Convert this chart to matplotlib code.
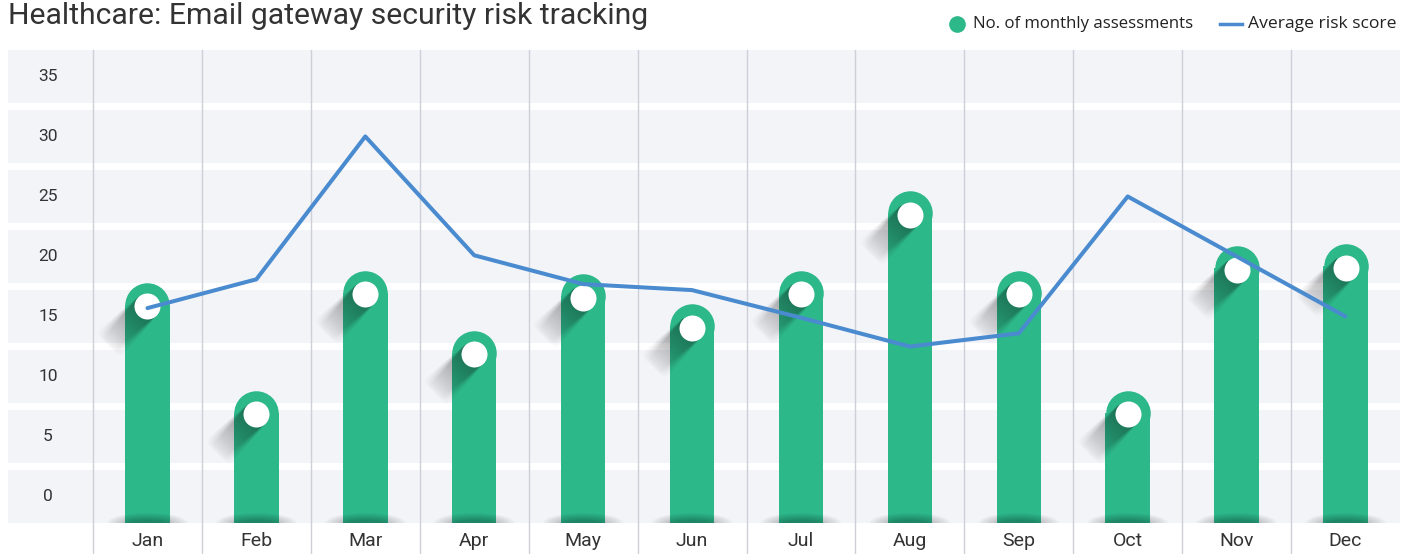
import numpy as np
import matplotlib
matplotlib.use("Agg")
import matplotlib.pyplot as plt
from matplotlib.patches import Ellipse
from matplotlib.transforms import blended_transform_factory, offset_copy, IdentityTransform
from matplotlib.lines import Line2D

# ---------------- data ----------------
months = ["Jan", "Feb", "Mar", "Apr", "May", "Jun", "Jul", "Aug", "Sep", "Oct", "Nov", "Dec"]
assessments = [16, 7, 17, 12, 16.7, 14.2, 17, 23.6, 17, 7, 19, 19.2]
risk_score = [15.7, 18.1, 30, 20.1, 17.7, 17.2, 14.9, 12.5, 13.6, 25, 20, 15]
y_ticks = [0, 5, 10, 15, 20, 25, 30, 35]

title = "Healthcare: Email gateway security risk tracking"
legend_bar = "No. of monthly assessments"
legend_line = "Average risk score"

# ---------------- style ----------------
GREEN = "#2DB88A"
BLUE = "#4A8BD0"
BAND = "#F3F4F8"
VGRID = "#CDD0D6"
TXT = "#333333"
TITLE_FONT = "Roboto"
LEG_FONT = "Open Sans"

W, H = 1402, 554
fig = plt.figure(figsize=(W / 100, H / 100), dpi=100)
fig.patch.set_facecolor("white")

ax_left, ax_right, ax_top, ax_bottom = 8, 1400, 50, 523
ax = fig.add_axes([ax_left / W, (H - ax_bottom) / H, (ax_right - ax_left) / W, (ax_bottom - ax_top) / H])
ax.set_facecolor("white")
for s in ax.spines.values():
    s.set_visible(False)
ax.set_xticks([])
ax.set_yticks([])

cat_w = (ax_right - 93) / len(months)
x = np.arange(len(months))
xlim = (-0.5 - (93 - ax_left) / cat_w, len(months) - 0.5)
ylim = (-2.2, 37.2)
ax.set_xlim(*xlim)
ax.set_ylim(*ylim)

# horizontal bands
for v in y_ticks:
    ax.axhspan(v - 2.21, v + 2.21, color=BAND, lw=0, zorder=0)

# vertical separators extending into the label area
bt = blended_transform_factory(ax.transData, ax.transAxes)
for i in range(len(months)):
    ax.plot([i - 0.5, i - 0.5], [1, -(H - ax_bottom) / (ax_bottom - ax_top)],
            transform=bt, clip_on=False, color=VGRID, lw=1.0, zorder=1)

# y labels inside the left band area
for v in y_ticks:
    ax.text(-0.5 - (93 - 48) / cat_w, v, str(v), ha="center", va="center",
            fontsize=12.5, color=TXT, family=TITLE_FONT, zorder=6)

# x labels
for i, m in enumerate(months):
    ax.text(i, -(541 - ax_bottom) / (ax_bottom - ax_top), m, transform=bt,
            ha="center", va="center", fontsize=14, color=TXT, family=TITLE_FONT, clip_on=False)

# bars with rounded caps
bar_px = 44.5
bw = bar_px / cat_w
vals = np.array(assessments)
ax.bar(x, vals + 5, bottom=-5, width=bw, color=GREEN, lw=0, zorder=2)
ax.scatter(x, vals, s=(bar_px * 0.72) ** 2, color=GREEN, lw=0, zorder=2)

fig.canvas.draw()

# long shadows from the white circles (rendered as an RGBA overlay)
ny, nx = ax_bottom - ax_top, ax_right - ax_left
jj, ii = np.meshgrid(np.arange(nx), np.arange(ny))
PX = ax_left + jj + 0.5
PY = (H - ax_top) - ii - 0.5
d = np.array([-1.0, -1.0]) / np.sqrt(2)
nv = np.array([-1.0, 1.0]) / np.sqrt(2)
r_w = 13.0
L = 56.0
alpha = np.zeros((ny, nx))
for i, v in enumerate(vals):
    cx, cy = ax.transData.transform((i, v))
    cy -= 1.5
    qx, qy = PX - cx, PY - cy
    t = qx * d[0] + qy * d[1]
    s = np.abs(qx * nv[0] + qy * nv[1])
    blur = 0.8 + 0.18 * np.clip(t, 0, None)
    edge = np.clip((r_w - s) / blur + 0.5, 0, 1)
    start = np.clip(t / 2.0 + 0.5, 0, 1)
    fade = np.clip(1 - t / L, 0, 1) ** 0.7
    a = 0.40 * edge * start * fade
    alpha = 1 - (1 - alpha) * (1 - a)
rgba = np.zeros((ny, nx, 4))
rgba[..., 3] = alpha
ax.imshow(rgba, extent=(xlim[0], xlim[1], ylim[0], ylim[1]), origin="upper",
          aspect="auto", interpolation="nearest", zorder=3)
ax.set_xlim(*xlim)
ax.set_ylim(*ylim)

# base shadows at the bottom of each bar
for i in range(len(months)):
    bx, by = ax.transData.transform((i, 0))
    byb = ax.transAxes.transform((0, 0))[1]
    for k in range(8):
        f = 1 - k / 8
        e = Ellipse((bx, byb), width=30 + 50 * f, height=4 + 16 * f,
                    transform=IdentityTransform(), facecolor="black", alpha=0.035, lw=0, zorder=3)
        ax.add_patch(e)

# white circles
trans_w = offset_copy(ax.transData, fig=fig, x=0, y=-1.5, units="dots")
ax.scatter(x, vals, s=(2 * r_w * 0.72) ** 2, color="white", lw=0, zorder=4, transform=trans_w)

# line
ax.plot(x, risk_score, color=BLUE, lw=2.9, zorder=5, solid_capstyle="round", solid_joinstyle="round")

# title
fig.text(8 / W, 1 - 16 / H, title, ha="left", va="center", fontsize=21.7, color=TXT, family=TITLE_FONT)

# legend (manual)
fig.add_artist(Line2D([957 / W], [1 - 24 / H], marker="o", ms=12, color=GREEN, mew=0,
                      transform=fig.transFigure))
fig.text(973 / W, 1 - 24 / H, legend_bar, ha="left", va="center", fontsize=12.1, color="#222222",
         family=LEG_FONT)
fig.add_artist(Line2D([1220 / W, 1242 / W], [1 - 24 / H, 1 - 24 / H], lw=2.5, color=BLUE,
                      transform=fig.transFigure))
fig.text(1248 / W, 1 - 24 / H, legend_line, ha="left", va="center", fontsize=12.6, color="#222222",
         family=LEG_FONT)

fig.savefig("out.png", dpi=100, facecolor="white")
